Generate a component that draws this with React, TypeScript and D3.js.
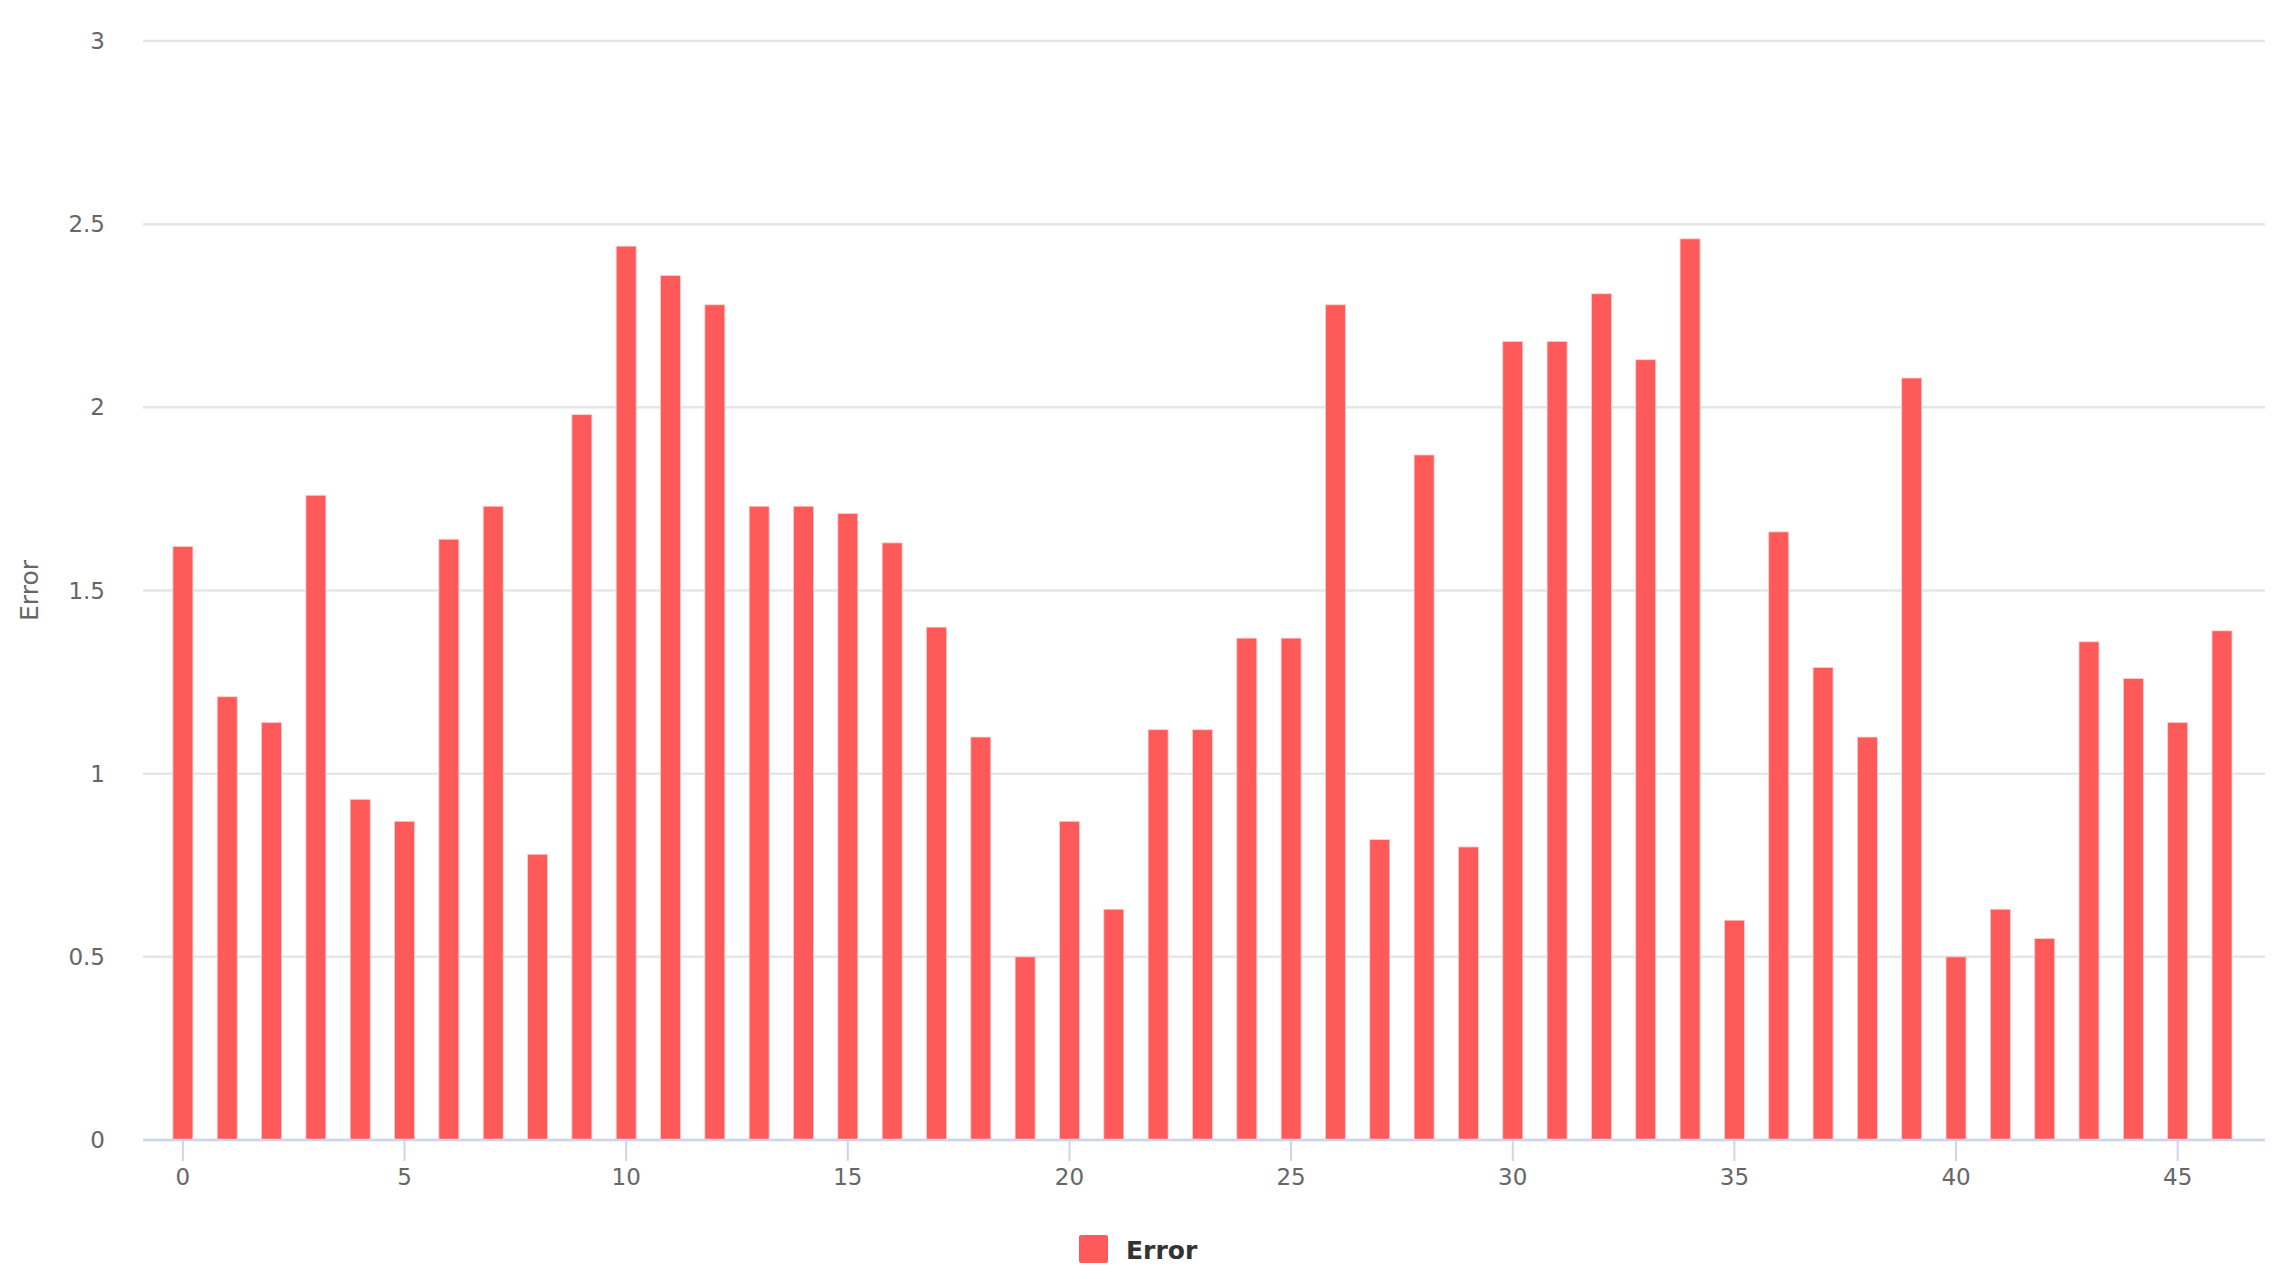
import React from "react";
import * as d3 from "d3";

// values, one per index 0..46
const errors = [
  1.62, 1.21, 1.14, 1.76, 0.93, 0.87, 1.64, 1.73, 0.78, 1.98,
  2.44, 2.36, 2.28, 1.73, 1.73, 1.71, 1.63, 1.4, 1.1, 0.5,
  0.87, 0.63, 1.12, 1.12, 1.37, 1.37, 2.28, 0.82, 1.87, 0.8,
  2.18, 2.18, 2.31, 2.13, 2.46, 0.6, 1.66, 1.29, 1.1, 2.08,
  0.5, 0.63, 0.55, 1.36, 1.26, 1.14, 1.39,
];
const xTicks = [0, 5, 10, 15, 20, 25, 30, 35, 40, 45];
const yTicks = [0, 0.5, 1, 1.5, 2, 2.5, 3];
const seriesName = "Error";

const W = 2281;
const H = 1279;
const font = "'Lucida Grande', 'DejaVu Sans', sans-serif";

export default function App() {
  const x = d3.scaleLinear().domain([-0.9, 46.97]).range([143, 2265]);
  const y = d3.scaleLinear().domain([0, 3]).range([1140, 41]);
  const barW = 20;
  const red = "#ff5a5a";

  return (
    <div style={{ position: "absolute", left: 0, top: 0 }}>
      <svg width={W} height={H} style={{ display: "block", background: "#fff" }}>
        {/* grid */}
        <g>
          {yTicks.map((t) => (
            <line
              key={t}
              x1={x.range()[0]}
              x2={x.range()[1]}
              y1={y(t)}
              y2={y(t)}
              stroke="#e6e6e6"
              strokeWidth={2.5}
            />
          ))}
        </g>

        {/* bars */}
        <g>
          {errors.map((v, i) => (
            <rect
              key={i}
              x={x(i) - barW / 2}
              y={y(v)}
              width={barW}
              height={y(0) - y(v)}
              fill={red}
              stroke="#ffd0d0"
              strokeWidth={0.8}
            />
          ))}
        </g>

        {/* x axis */}
        <line
          x1={x.range()[0]}
          x2={x.range()[1]}
          y1={y(0)}
          y2={y(0)}
          stroke="#ccd6eb"
          strokeWidth={2.5}
        />
        {xTicks.map((t) => (
          <g key={t} transform={`translate(${x(t)},0)`}>
            <line y1={y(0)} y2={y(0) + 21} stroke="#ccd6eb" strokeWidth={2} />
            <text
              y={1185}
              textAnchor="middle"
              fontFamily={font}
              fontSize={23}
              fill="#666"
            >
              {t}
            </text>
          </g>
        ))}

        {/* y axis labels */}
        {yTicks.map((t) => (
          <text
            key={t}
            x={105}
            y={y(t) + 8}
            textAnchor="end"
            fontFamily={font}
            fontSize={23}
            fill="#666"
          >
            {d3.format("~g")(t)}
          </text>
        ))}
        <text
          transform={`translate(38,${(y(0) + y(3)) / 2}) rotate(-90)`}
          textAnchor="middle"
          fontFamily={font}
          fontSize={25}
          fill="#666"
        >
          {seriesName}
        </text>

        {/* legend */}
        <rect x={1079} y={1235} width={29} height={28} rx={2} fill={red} />
        <text
          x={1126}
          y={1259}
          fontFamily={font}
          fontSize={25}
          fontWeight="bold"
          fill="#333"
        >
          {seriesName}
        </text>
      </svg>
    </div>
  );
}
